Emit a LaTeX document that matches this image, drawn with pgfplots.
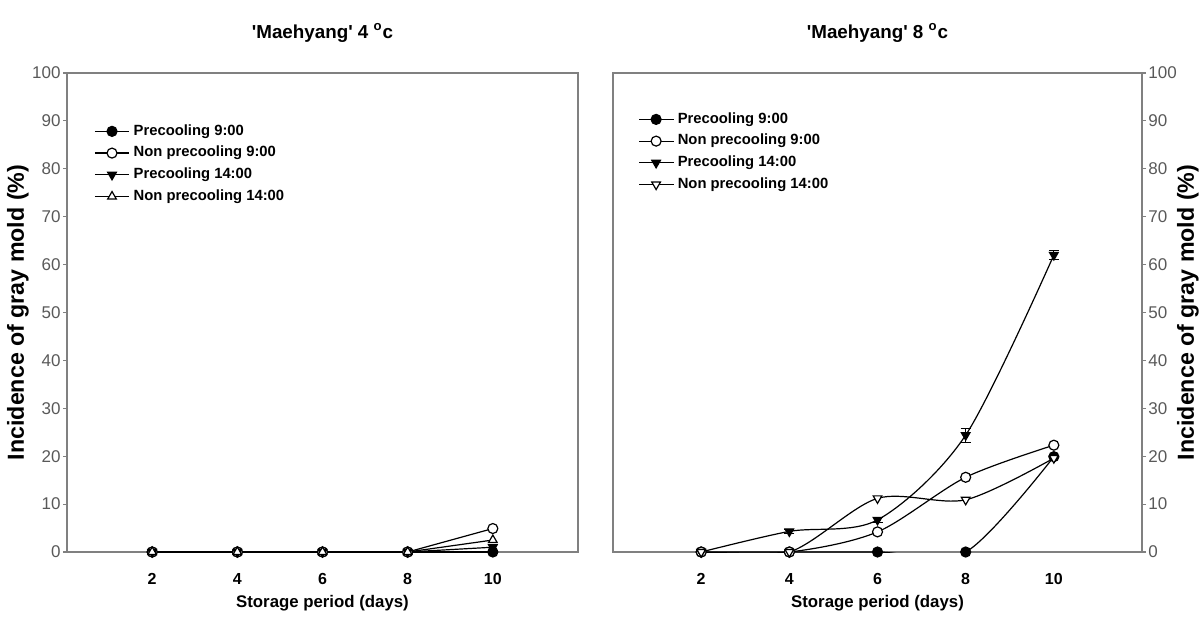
\documentclass[border=0pt]{standalone}
\usepackage{fontspec}
\setmainfont{Liberation Sans}
\usepackage{pgfplots}
\pgfplotsset{compat=1.18}
\pgfplotsset{
  gm/.style={
    scale only axis, height=239.5pt, xmin=0, xmax=12, ymin=0, ymax=100,
    xtick={2,4,6,8,10}, ytick={0,10,...,100},
    axis line style={draw=black!50, line width=0.9pt},
    tick style={draw=black!50, line width=0.6pt},
    tick align=outside, major tick length=2pt,
    xtick style={draw=none},
    xticklabel style={font=\fontsize{8}{9}\selectfont\bfseries, yshift=-5pt},
    yticklabel style={font=\fontsize{8.5}{10}\selectfont, text=black!65, inner sep=1pt},
    /pgf/number format/assume math mode=true,
    title style={font=\fontsize{9.4}{11}\selectfont\bfseries, at={([yshift=14pt]axis description cs:0.5,1)}, anchor=center},
    xlabel style={font=\fontsize{8.4}{10}\selectfont\bfseries, at={([yshift=-25.5pt]axis description cs:0.5,0)}, anchor=center},
    ylabel style={font=\fontsize{11.6}{13}\selectfont\bfseries},
    every axis plot/.append style={black, line width=0.6pt, mark size=2.5pt},
    legend style={draw=none, fill=none, font=\fontsize{7.4}{9}\selectfont\bfseries, anchor=north west, row sep=0pt},
    legend cell align=left,
  }
}
\begin{document}
\begin{tikzpicture}
\useasboundingbox (0,0) rectangle (601pt,308pt);
\begin{axis}[gm, at={(33.5pt,32pt)}, anchor=south west, width=255.5pt,
  ytick pos=left, xtick pos=bottom,
  title={\textquotesingle Maehyang\textquotesingle\ 4 \textsuperscript{o}c},
  xlabel={Storage period (days)},
  ylabel={Incidence of gray mold (\%)},
  ylabel style={at={([xshift=-24.5pt]axis description cs:0,0.5)}, anchor=center},
  legend style={at={(0.041,0.91)}}]
\addplot[mark=*, mark options={fill=black}] coordinates {(2,0)(4,0)(6,0)(8,0)(10,0)};
\addlegendentry{Precooling 9:00}
\addplot[mark=*, mark options={fill=white}] coordinates {(2,0)(4,0)(6,0)(8,0)(10,4.9)};
\addlegendentry{Non precooling 9:00}
\addplot[mark=triangle*, mark options={fill=black, rotate=180}] coordinates {(2,0)(4,0)(6,0)(8,0)(10,1)};
\addlegendentry{Precooling 14:00}
\addplot[mark=triangle*, mark options={fill=white}] coordinates {(2,0)(4,0)(6,0)(8,0)(10,2.5)};
\addlegendentry{Non precooling 14:00}
\end{axis}
\begin{axis}[gm, at={(306.5pt,32pt)}, anchor=south west, width=264.5pt,
  ytick pos=right, yticklabel pos=right, xtick pos=bottom,
  title={\textquotesingle Maehyang\textquotesingle\ 8 \textsuperscript{o}c},
  xlabel={Storage period (days)},
  ylabel={Incidence of gray mold (\%)},
  ylabel style={at={([xshift=23pt]axis description cs:1,0.5)}, anchor=center},
  legend style={at={(0.036,0.935)}}]
\addplot[smooth, mark=*, mark options={fill=black}] coordinates {(2,0)(4,0)(6,0)(8,0)(10,19.9)};
\addlegendentry{Precooling 9:00}
\addplot[smooth, mark=*, mark options={fill=white}] coordinates {(2,0)(4,0)(6,4.2)(8,15.6)(10,22.3)};
\addlegendentry{Non precooling 9:00}
\addplot[smooth, mark=triangle*, mark options={fill=black, rotate=180},
  error bars/.cd, y dir=both, y explicit] coordinates {(2,0)(4,4.3)+-(0,0.4)(6,6.7)+-(0,0.5)(8,24.4)+-(0,1.5)(10,62)+-(0,1)};
\addlegendentry{Precooling 14:00}
\addplot[smooth, mark=triangle*, mark options={fill=white, rotate=180}] coordinates {(2,0)(4,0)(6,11.2)(8,10.9)(10,19.6)};
\addlegendentry{Non precooling 14:00}
\end{axis}
\end{tikzpicture}
\end{document}
